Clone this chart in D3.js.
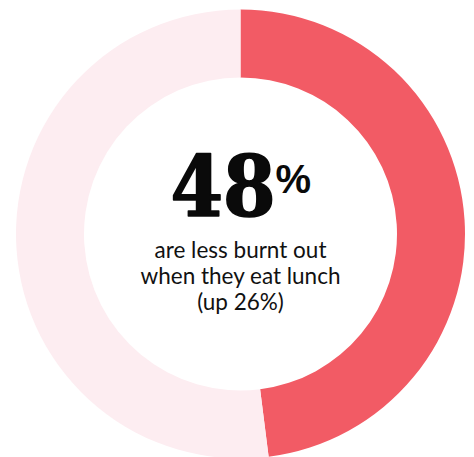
<!DOCTYPE html>
<html>
<head>
<meta charset="utf-8">
<script src="https://cdn.jsdelivr.net/npm/d3@7"></script>
<style>
  html, body { margin: 0; padding: 0; background: #ffffff; }
  svg { display: block; }
</style>
</head>
<body>
<svg id="chart" width="474" height="457"></svg>
<script>
// Share of people less burnt out when they eat lunch
const categories = ["Less burnt out", "Other"];
const values = [48, 52];
const headline = "48";
const headlineUnit = "%";
const captionLines = ["are less burnt out", "when they eat lunch", "(up 26%)"];

const colors = d3.scaleOrdinal()
  .domain(categories)
  .range(["#f25b65", "#fdedf1"]);

const width = 474, height = 457;
const cx = 240.5, cy = 234;
const outerR = 224.5, innerR = 156.5;

const svg = d3.select("#chart");
const g = svg.append("g").attr("transform", `translate(${cx},${cy})`);

const pie = d3.pie().sort(null).value(d => d.value);
const arc = d3.arc().innerRadius(innerR).outerRadius(outerR);

const data = categories.map((c, i) => ({ category: c, value: values[i] }));

g.selectAll("path.slice")
  .data(pie(data))
  .join("path")
  .attr("class", "slice")
  .attr("d", arc)
  .attr("fill", d => colors(d.data.category));

// Headline number with a raised percent sign
g.append("text")
  .attr("x", -70)
  .attr("y", -18)
  .attr("fill", "#0a0a0a")
  .attr("stroke", "#0a0a0a")
  .attr("stroke-width", 1.6)
  .attr("stroke-linejoin", "round")
  .style("font-family", "'DejaVu Serif', serif")
  .style("font-weight", "bold")
  .style("font-stretch", "condensed")
  .style("font-size", "84px")
  .text(headline);

g.append("text")
  .attr("x", 35)
  .attr("y", -41)
  .attr("fill", "#0a0a0a")
  .style("font-family", "'Liberation Sans', Arial, sans-serif")
  .style("font-weight", "bold")
  .style("font-size", "40px")
  .text(headlineUnit);

// Caption below
g.selectAll("text.caption")
  .data(captionLines)
  .join("text")
  .attr("class", "caption")
  .attr("x", 0)
  .attr("y", (d, i) => 24 + i * 26)
  .attr("text-anchor", "middle")
  .attr("fill", "#111111")
  .style("font-family", "Lato, sans-serif")
  .style("font-size", "22.5px")
  .text(d => d);
</script>
</body>
</html>
